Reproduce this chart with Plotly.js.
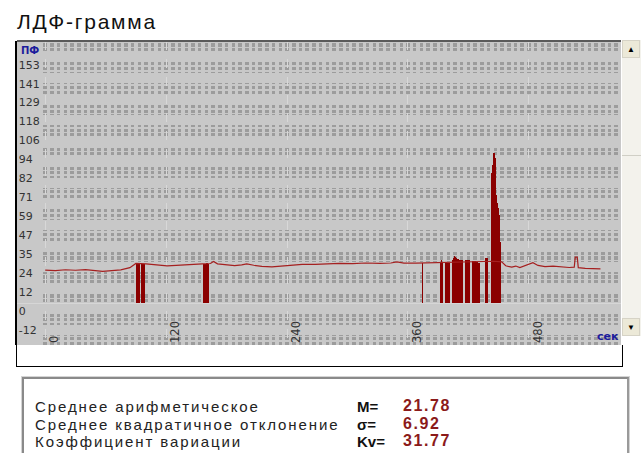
<!DOCTYPE html>
<html>
<head>
<meta charset="utf-8">
<script src="https://cdn.plot.ly/plotly-3.0.1.min.js"></script>
<style>
  html,body{margin:0;padding:0;background:#fff;}
  body{width:641px;height:453px;overflow:hidden;position:relative;font-family:"Liberation Sans",Arial,sans-serif;}
  #chart{position:absolute;left:0;top:0;width:641px;height:453px;}
  .abs{position:absolute;}
  #title{left:17px;top:10px;font-size:21px;letter-spacing:1.8px;color:#111;}
  #under{left:16px;top:345px;width:605px;height:21px;border:1px solid #000;border-top:none;background:#fff;}
  #scroll{left:622px;top:40px;width:19px;height:296px;background:#f3f2ec;}
  .btn{position:absolute;left:0;width:18px;height:18px;background:#ece9d8;border:1px solid #d6d3c6;box-sizing:border-box;font-size:8px;line-height:18px;text-align:center;color:#000;}
  #thumb{position:absolute;left:0;top:20px;width:19px;height:96px;border-bottom:1px solid #d0cfc6;box-sizing:border-box;}
  #stats{left:22px;top:377px;width:603px;height:80px;background:#fff;border-top:2px solid #8a8a8a;border-left:2px solid #8a8a8a;border-right:2px solid #9a9a9a;box-shadow:0 0 0 1px #d4d4d4;}
  .st{position:absolute;font-size:15px;color:#222;letter-spacing:1.9px;white-space:nowrap;font-family:"Liberation Sans",Arial,sans-serif;}
  .sym{position:absolute;font-size:15px;font-weight:bold;color:#111;white-space:nowrap;}
  .val{position:absolute;font-size:16px;font-weight:bold;color:#8b1a1a;white-space:nowrap;font-family:"Liberation Sans Narrow","Liberation Sans",Arial,sans-serif;letter-spacing:1.6px;}
</style>
</head>
<body>
<div id="chart"></div>
<div id="title" class="abs">ЛДФ-грамма</div>
<div id="under" class="abs"></div>
<div id="scroll" class="abs">
  <div class="btn" style="top:0">&#9650;</div>
  <div id="thumb"></div>
  <div class="btn" style="top:278px">&#9660;</div>
</div>
<div id="stats" class="abs"></div>
<script>
// ---- data (seconds, perfusion units) ----
const sigT = [0,10,20,30,40,50,57,66,75,84,90,100,110,121,130,140,150,156,164,167,171,180,188,195,200,207,215,225,235,245,255,268,280,292,305,318,332,343,349,356,368,380,392,404,416,428,438,445,453,457,463,467,471,477,484,489,496,504,512,520,525,526,528,529,536,543,551];
const sigV = [20.5,20.2,20.7,20.4,20.8,20.3,19.7,20.2,20.6,22.0,24.6,24.3,23.7,23.1,23.4,23.9,24.3,24.4,24.6,25.8,24.4,23.9,23.3,23.7,24.3,23.5,22.8,22.5,23.0,23.6,24.0,24.1,24.4,24.7,24.5,24.9,24.7,24.9,25.6,24.8,24.8,25.0,25.1,25.4,25.4,25.5,25.8,26.0,25.6,23.2,22.3,23.0,22.0,23.4,25.1,23.4,22.7,23.0,22.4,22.1,22.3,28.5,28.5,22.0,21.6,21.4,21.2];

const artT = [91,92,93,94,96,97,98,99,157,158,159,160,161,162,374,392,393,394,397,398,399,400,401,404,405,406,407,408,409,410,411,412,413,414,417,418,419,420,421,424,425,426,427,428,429,430,431,437,438,439,443,444,445,446,447,448,449,450,451,452];
const artV = [24.6,24.8,24.7,24.6,24.5,24.4,24.3,24.2,24.4,24.5,24.5,24.6,24.6,24.5,25.0,25.0,26.5,25.0,25.0,25.1,25.1,25.2,25.2,27.0,28.0,29.5,28.5,28.0,27.5,27.5,27.0,27.0,27.0,26.5,26.8,26.8,26.5,26.5,26.5,26.3,26.3,26.0,26.0,25.6,25.6,25.2,25.2,28.0,28.0,28.0,81,86,93,93,90,67,62,59,55,38];

const xTickVals = [0,120,240,360,480];
const xTickText = ['0','120','240','360','480'];
const yTickVals = [-11.76,0,11.76,23.53,35.29,47.06,58.82,70.59,82.35,94.12,105.88,117.65,129.41,141.18,152.94];
const yTickText = ['-12','0','12','24','35','47','59','71','82','94','106','118','129','141','153'];

const statNames = ['Среднее арифметическое','Среднее квадратичное отклонение','Коэффициент вариации'];
const statSyms = ['M=','σ=','Kv='];
const statVals = ['21.78','6.92','31.77'];

// ---- stats panel ----
const stats = document.getElementById('stats');
const rowTops = [19,37,54];
statNames.forEach((n,i)=>{
  const a=document.createElement('div');a.className='st';a.style.left='11px';a.style.top=rowTops[i]+'px';a.textContent=n;stats.appendChild(a);
  const b=document.createElement('div');b.className='sym';b.style.left='333px';b.style.top=rowTops[i]+'px';b.textContent=statSyms[i];stats.appendChild(b);
  const c=document.createElement('div');c.className='val';c.style.left='379px';c.style.top=(rowTops[i]-1)+'px';c.textContent=statVals[i];stats.appendChild(c);
});

// ---- chart ----
const traces = [
  {type:'bar', x:artT, y:artV, marker:{color:'#8b0000', line:{width:0}}, hoverinfo:'skip', showlegend:false},
  {type:'scatter', mode:'lines', x:sigT, y:sigV, line:{color:'#a52020', width:1.2}, hoverinfo:'skip', showlegend:false}
];

const layout = {
  width:641, height:453,
  margin:{l:17, r:20, t:41, b:108, pad:0},
  paper_bgcolor:'rgba(0,0,0,0)',
  plot_bgcolor:'#c8c8c8',
  bargap:0,
  showlegend:false,
  font:{family:'"DejaVu Sans", sans-serif', size:11, color:'#333'},
  xaxis:{
    range:[-28,571.4], fixedrange:true,
    anchor:'free', position:0, side:'top',
    tickmode:'array', tickvals:xTickVals, ticktext:xTickText,
    ticks:'', tickangle:-90, ticklabelshift:9, ticklabelstandoff:2,
    tickfont:{family:'"DejaVu Sans", sans-serif', size:11.5, color:'#333'},
    showgrid:true, gridcolor:'#d8d8d8', gridwidth:1, griddash:'dash',
    minor:{tick0:0, dtick:6.6667, showgrid:true, gridcolor:'#9c9c9c', gridwidth:3.5, ticks:''},
    zeroline:false, showline:false
  },
  yaxis:{
    range:[-26,162.7], fixedrange:true,
    tickmode:'array', tickvals:yTickVals, ticktext:yTickText,
    ticks:'', ticklabelposition:'inside', ticklabelshift:8, ticklabelstandoff:1,
    tickfont:{family:'"DejaVu Sans", sans-serif', size:11, color:'#333'},
    showgrid:false,
    minor:{tick0:0, dtick:2.941, showgrid:true, gridcolor:'#c8c8c8', gridwidth:1.5, ticks:''},
    zeroline:true, zerolinecolor:'#d6d6d6', zerolinewidth:1,
    showline:true, linecolor:'#000', linewidth:2
  },
  shapes:[
    {type:'line', xref:'paper', yref:'paper', x0:0, x1:1, y0:1, y1:1, line:{color:'#5a5a5a', width:2}}
  ],
  annotations:[
    {xref:'paper', yref:'paper', x:0.003, y:0.995, xanchor:'left', yanchor:'top', showarrow:false,
     text:'<b>ПФ</b>', font:{family:'"DejaVu Sans", sans-serif', size:10, color:'#1c1c9c'}},
    {xref:'paper', yref:'paper', x:1, y:0, xanchor:'right', yanchor:'bottom', showarrow:false,
     text:'<b>сек</b>', font:{family:'"DejaVu Sans", sans-serif', size:11, color:'#1c1c9c'}}
  ]
};

Plotly.newPlot('chart', traces, layout, {staticPlot:true, displayModeBar:false});
</script>
</body>
</html>
